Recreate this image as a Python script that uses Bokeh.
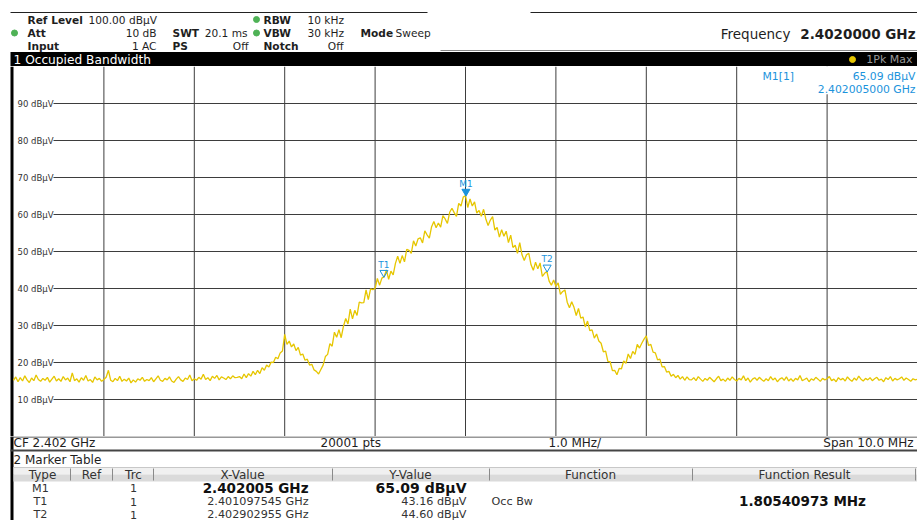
import numpy as np
from bokeh.plotting import figure
from bokeh.layouts import column
from bokeh.models import Range1d
from bokeh.core.properties import value
from bokeh.embed import file_html
from bokeh.resources import INLINE

# ---------------- data ----------------
center_mhz = 2402.0
span_mhz = 10.0
# trace level (dBuV) every 0.025 MHz from CF-5 MHz to CF+5 MHz
trace_dbuv = [
    15.2, 16.1, 14.8, 15.9, 15.0, 16.4, 15.3, 14.6, 15.8, 15.1, 16.6, 15.4, 14.9, 15.7, 15.2, 16.0, 14.7, 15.5, 16.3, 15.0,
    15.6, 14.9, 16.2, 15.3, 15.8, 14.8, 17.2, 15.1, 15.6, 14.7, 15.9, 15.2, 16.5, 15.0, 15.4, 14.6, 16.1, 15.3, 15.7, 14.9,
    15.4, 16.0, 17.9, 15.2, 14.8, 15.7, 15.1, 16.3, 14.9, 15.5, 15.0, 15.8, 14.5, 15.3, 14.7, 15.6, 15.2, 16.0, 14.9, 15.4,
    15.1, 15.9, 14.8, 15.6, 16.4, 15.2, 14.9, 15.7, 15.3, 16.1, 15.0, 14.6, 15.5, 16.2, 15.3, 14.9, 15.8, 15.4, 16.6, 15.1,
    15.6, 15.2, 16.0, 15.5, 16.8, 15.4, 15.9, 15.1, 16.3, 15.7, 16.5, 15.3, 16.1, 15.8, 15.4, 16.2, 15.6, 16.4, 15.9, 16.0,
    16.2, 15.6, 16.9, 15.9, 17.0, 16.3, 17.6, 16.7, 17.9, 17.0, 18.6, 17.9, 19.3, 18.8, 20.1, 20.0, 21.4, 21.0, 22.6, 23.1,
    27.6, 24.9, 25.8, 24.2, 25.0, 23.2, 24.1, 22.0, 22.3, 20.6, 20.9, 19.3, 19.5, 18.0, 17.6, 16.9, 18.1, 19.3, 21.6, 22.2,
    25.1, 24.4, 28.2, 26.8, 28.9, 26.7, 29.8, 31.9, 30.4, 34.4, 31.8, 34.1, 32.7, 36.3, 36.1, 36.2, 39.6, 37.0, 39.9, 39.7,
    40.0, 42.7, 40.9, 42.8, 43.2, 45.0, 42.5, 44.7, 43.7, 46.8, 48.7, 46.8, 48.9, 47.2, 50.6, 50.3, 49.5, 52.9, 51.5, 53.4,
    53.7, 52.3, 55.6, 54.5, 53.6, 56.7, 58.1, 56.4, 57.7, 56.6, 59.7, 58.8, 57.6, 60.6, 61.7, 60.5, 59.5, 63.0, 62.3, 64.7,
    65.1, 61.9, 64.2, 62.3, 63.4, 60.4, 61.1, 59.5, 61.4, 58.8, 57.0, 58.5, 59.4, 55.8, 56.5, 53.9, 55.9, 54.1, 55.5, 52.4,
    54.4, 51.1, 51.7, 49.5, 52.4, 49.1, 47.6, 49.1, 49.5, 46.4, 44.9, 47.1, 45.3, 46.9, 43.3, 44.1, 44.6, 42.0, 40.9, 42.3,
    40.6, 41.5, 38.4, 39.2, 39.6, 36.3, 34.8, 36.4, 34.9, 32.7, 34.6, 32.0, 32.3, 29.6, 31.2, 28.6, 28.8, 26.6, 27.7, 25.8,
    25.2, 22.9, 23.1, 20.3, 20.2, 17.8, 17.9, 16.7, 18.4, 18.3, 20.4, 19.8, 22.3, 21.1, 23.0, 22.2, 24.9, 23.9, 25.2, 26.3,
    27.2, 24.6, 24.9, 22.8, 22.6, 20.7, 20.9, 18.8, 18.9, 17.4, 17.6, 16.3, 16.8, 15.9, 16.5, 15.5, 16.2, 15.2, 16.1, 15.4,
    15.3, 15.9, 15.1, 16.2, 15.5, 14.9, 15.7, 15.2, 16.0, 15.4, 14.8, 15.6, 16.3, 15.1, 15.5, 14.9, 15.8, 15.2, 16.1, 15.4,
    15.0, 15.7, 15.3, 16.4, 15.1, 15.8, 14.7, 15.5, 15.9, 15.2, 16.0, 15.4, 14.9, 15.6, 15.1, 16.2, 15.3, 15.8, 14.8, 15.5,
    15.9, 15.2, 16.1, 15.0, 15.6, 14.9, 15.7, 15.3, 16.5, 15.1, 15.4, 15.8, 14.8, 15.6, 15.2, 16.0, 15.5, 14.9, 15.7, 15.3,
    15.6, 16.2, 15.1, 15.5, 14.8, 15.9, 15.3, 15.7, 15.0, 16.1, 15.4, 14.9, 15.8, 15.2, 16.3, 15.5, 15.0, 15.7, 15.3, 15.9,
    15.1, 15.6, 16.0, 15.2, 15.5, 14.8, 15.9, 15.4, 16.2, 15.0, 15.7, 15.3, 15.6, 16.1, 15.2, 15.8, 15.4, 14.9, 15.6, 15.3,
    15.5,
]
y_ticks = [10, 20, 30, 40, 50, 60, 70, 80, 90]
y_tick_labels = ["10 dBµV", "20 dBµV", "30 dBµV", "40 dBµV", "50 dBµV", "60 dBµV", "70 dBµV", "80 dBµV", "90 dBµV"]
x_grid_mhz = [2398, 2399, 2400, 2401, 2402, 2403, 2404, 2405, 2406]
marker_names = ["M1", "T1", "T2"]
marker_freq_mhz = [2402.005, 2401.097545, 2402.902955]
marker_level = [65.09, 43.16, 44.60]
marker_filled = [True, False, False]
marker_trc = ["1", "1", "1"]
marker_x_text = ["2.402005 GHz", "2.401097545 GHz", "2.402902955 GHz"]
marker_y_text = ["65.09 dBµV", "43.16 dBµV", "44.60 dBµV"]
occ_bw_text = "1.80540973 MHz"

freq_mhz = np.linspace(center_mhz - span_mhz / 2, center_mhz + span_mhz / 2, len(trace_dbuv))

FONT = value("DejaVu Sans")
W = 917
YEL = "#e6c600"
BLUE = "#1b93dc"
GRID = "#3d3d3d"


def txt(p, x, y, s, size, color="#1e1e1e", bold=False, align="left", baseline="middle"):
    p.text(x=[x], y=[y], text=[s], text_font=FONT, text_font_size=f"{size}px",
           text_font_style="bold" if bold else "normal", text_color=color,
           text_align=align, text_baseline=baseline)


def blank(h, xr, yr):
    p = figure(width=W, height=h, x_range=xr, y_range=yr, output_backend="svg",
               toolbar_location=None, x_axis_location=None, y_axis_location=None,
               min_border=0, min_border_left=0, min_border_right=0,
               min_border_top=0, min_border_bottom=0)
    p.grid.visible = False
    p.outline_line_color = None
    p.background_fill_color = "white"
    p.border_fill_color = "white"
    return p


# ---------------- header (reference pixel coordinates) ----------------
h = blank(66, Range1d(0, 917), Range1d(66, 0))
h.segment(x0=[10, 530], y0=[12, 12], x1=[427, 917], y1=[12, 12], line_color="#222", line_width=1)
h.segment(x0=[440], y0=[50], x1=[917], y1=[50], line_color="#888", line_width=1)
h.quad(left=[10], right=[917], top=[51.5], bottom=[66], fill_color="black", line_color=None)
txt(h, 13, 59, "1 Occupied Bandwidth", 12.2, color="white")
h.scatter(x=[852], y=[59], size=6, color=YEL)
txt(h, 912, 59, "1Pk Max", 11, color="#9a9a9a", align="right")

fs = 10.6
r1, r2, r3 = 19, 32.5, 45
txt(h, 27, r1, "Ref Level", fs, bold=True)
txt(h, 88, r1, "100.00 dBµV", fs)
txt(h, 263, r1, "RBW", fs, bold=True)
txt(h, 307, r1, "10 kHz", fs)
txt(h, 27, r2, "Att", fs, bold=True)
txt(h, 156, r2, "10 dB", fs, align="right")
txt(h, 172, r2, "SWT", fs, bold=True)
txt(h, 247, r2, "20.1 ms", fs, align="right")
txt(h, 263, r2, "VBW", fs, bold=True)
txt(h, 307, r2, "30 kHz", fs)
txt(h, 360, r2, "Mode", fs, bold=True)
txt(h, 395, r2, "Sweep", fs)
txt(h, 27, r3, "Input", fs, bold=True)
txt(h, 156, r3, "1 AC", fs, align="right")
txt(h, 172, r3, "PS", fs, bold=True)
txt(h, 248, r3, "Off", fs, align="right")
txt(h, 263, r3, "Notch", fs, bold=True)
txt(h, 343, r3, "Off", fs, align="right")
h.scatter(x=[256, 256, 14], y=[r1, r2, r2], size=6, color="#4fb256")
txt(h, 790, 33, "Frequency", 13.5, align="right")
txt(h, 915, 33, "2.4020000 GHz", 13.5, bold=True, align="right")

# ---------------- trace plot (MHz / dBuV) ----------------
PXM = 90.4  # pixels per MHz in the reference
f0 = center_mhz - span_mhz / 2
f1 = center_mhz + span_mhz / 2
p = blank(370, Range1d(f0 - 13 / PXM, f1), Range1d(0, 100))
p.quad(left=[f0 - 3 / PXM], right=[f0], bottom=[0], top=[100], fill_color="black", line_color=None)
p.segment(x0=x_grid_mhz, y0=[0] * len(x_grid_mhz), x1=x_grid_mhz, y1=[100] * len(x_grid_mhz),
          line_color=GRID, line_width=1)
p.segment(x0=[f0 + 40 / PXM] * len(y_ticks), y0=y_ticks, x1=[f1] * len(y_ticks), y1=y_ticks,
          line_color=GRID, line_width=1)
p.text(x=[f0 + 4 / PXM] * len(y_ticks), y=y_ticks, text=y_tick_labels, text_font=FONT,
       text_font_size="8.5px", text_color="#333", text_baseline="middle", text_align="left")
p.line(freq_mhz, trace_dbuv, line_color=YEL, line_width=1.3)

# marker info box (top right)
p.quad(left=[f0 + (750 - 13) / PXM], right=[f1], bottom=[92.5], top=[100], fill_color="white", line_color=None)
txt(p, f0 + (762 - 13) / PXM, 97.3, f"{marker_names[0]}[1]", 10.8, color=BLUE)
txt(p, f1 - 2 / PXM, 97.3, marker_y_text[0], 10.8, color=BLUE, align="right")
txt(p, f1 - 2 / PXM, 93.8, f"{marker_freq_mhz[0] / 1000:.9f} GHz", 10.8, color=BLUE, align="right")

# markers
tri_y = [v + 1.1 for v in marker_level]
p.scatter(x=[marker_freq_mhz[i] for i in range(3) if marker_filled[i]],
          y=[tri_y[i] for i in range(3) if marker_filled[i]],
          marker="inverted_triangle", size=8, fill_color=BLUE, line_color=BLUE)
p.scatter(x=[marker_freq_mhz[i] for i in range(3) if not marker_filled[i]],
          y=[tri_y[i] for i in range(3) if not marker_filled[i]],
          marker="inverted_triangle", size=8, fill_color="white", fill_alpha=0, line_color=BLUE, line_width=1)
p.text(x=marker_freq_mhz, y=marker_level, text=marker_names, text_font=FONT, text_font_size="9px",
       text_color=BLUE, text_align="center", text_baseline="bottom", y_offset=-7)

# ---------------- bottom strip + marker table (reference pixel coordinates) ----------------
b = blank(84, Range1d(0, 917), Range1d(520, 436))
b.quad(left=[10], right=[13], top=[436], bottom=[520], fill_color="black", line_color=None)
b.segment(x0=[10], y0=[436.5], x1=[917], y1=[436.5], line_color="#333", line_width=1)
txt(b, 13, 442.5, "CF 2.402 GHz", 12)
txt(b, 320, 442.5, "20001 pts", 12)
txt(b, 548, 442.5, "1.0 MHz/", 12)
txt(b, 913, 442.5, "Span 10.0 MHz", 12, align="right")
b.segment(x0=[10], y0=[450], x1=[917], y1=[450], line_color="#444", line_width=2)
txt(b, 13, 459.5, "2 Marker Table", 12)

b.quad(left=[13], right=[917], top=[467], bottom=[474], fill_color="#f0f0f0", line_color=None)
b.quad(left=[13], right=[917], top=[474], bottom=[481], fill_color="#dadada", line_color=None)
b.segment(x0=[13], y0=[467], x1=[917], y1=[467], line_color="#c8c8c8", line_width=1)
seps = [70, 112, 153, 332, 489, 692, 915]
b.segment(x0=seps, y0=[468] * len(seps), x1=seps, y1=[480] * len(seps), line_color="#8a8a8a", line_width=1)
for cx, s in [(42, "Type"), (91, "Ref"), (133, "Trc"), (242, "X-Value"), (410, "Y-Value"),
              (590, "Function"), (804, "Function Result")]:
    txt(b, cx, 474, s, 12, color="#333", align="center")

row_y = [487.5, 501, 514]
for i in range(3):
    txt(b, 40, row_y[i], marker_names[i], 11.2, color="#333", align="center")
    txt(b, 133, row_y[i], marker_trc[i], 11.2, color="#333", align="center")
    bold = i == 0
    txt(b, 308, row_y[i], marker_x_text[i], 13.5 if bold else 11.2, color="#111" if bold else "#333",
        bold=bold, align="right")
    txt(b, 466, row_y[i], marker_y_text[i], 14 if bold else 11.2, color="#111" if bold else "#333",
        bold=bold, align="right")
txt(b, 491, 501, "Occ Bw", 11.2, color="#333")
txt(b, 802, 500.5, occ_bw_text, 13.5, color="#111", bold=True, align="center")

layout = column(h, p, b, spacing=0)
open("out.html", "w").write(file_html(layout, INLINE))
